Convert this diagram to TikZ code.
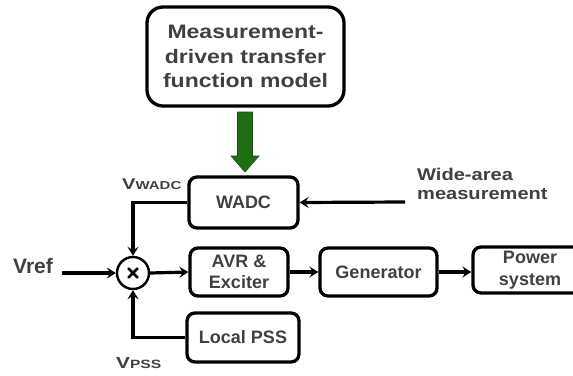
\documentclass[tikz,border=0pt]{standalone}
\usepackage{fontspec}
\setmainfont{Liberation Sans}
\newfontfamily\widefont{Liberation Sans}[FakeStretch=1.18]
\newfontfamily\heavyfont{Liberation Sans}[FakeStretch=1.3]
\usetikzlibrary{arrows.meta}
\definecolor{txt}{HTML}{404040}
\definecolor{arrowgreen}{HTML}{1E6E12}
\tikzset{
  blk/.style={draw=black, line width=3.3pt, rounded corners=8pt, inner sep=0pt,
    align=center, font=\bfseries\fontsize{18}{20.5}\selectfont, text=txt},
  lbl/.style={text=txt, font=\widefont\bfseries\fontsize{17}{19}\selectfont,
    inner sep=0pt, align=left},
  sig/.style={line width=3.2pt, -{Stealth[length=9pt,width=11pt,inset=3.5pt]}},
}
\begin{document}
\begin{tikzpicture}[x=1pt,y=-1pt]
\useasboundingbox (0,0) rectangle (573,375);
\begin{scope}
\clip (0,0) rectangle (573,375);
% blocks
\node[blk, minimum width=197pt, minimum height=99pt, rounded corners=16pt,
      font=\widefont\bfseries\fontsize{19.5}{24.5}\selectfont] (model) at (245.5,56.5)
  {Measurement-\\driven transfer\\function model};
\node[blk, minimum width=109pt, minimum height=51pt] (wadc) at (243.5,202.5) {WADC};
\node[blk, minimum width=98pt, minimum height=48pt] (avr) at (239,272) {AVR \&\\Exciter};
\node[blk, minimum width=112pt, minimum height=49pt] (pss) at (243,337.5) {Local PSS};
\node[blk, minimum width=117pt, minimum height=48pt] (gen) at (378.5,272) {Generator};
\node[blk, minimum width=114pt, minimum height=46pt, font=\bfseries\fontsize{18}{22}\selectfont]
  (pow) at (530,270) {Power\\system};
\end{scope}
% summing junction with its multiplication cross
\node[draw, circle, line width=2.4pt, minimum size=32pt, inner sep=0pt] (sum) at (133,273) {};
\draw[line width=2.6pt, line cap=round]
  ([shift={(-4.5,-4.5)}]sum.center) -- ([shift={(4.5,4.5)}]sum.center)
  ([shift={(-4.5,4.5)}]sum.center) -- ([shift={(4.5,-4.5)}]sum.center);
% inputs and labels
\node[lbl, font=\bfseries\fontsize{21}{22}\selectfont, anchor=base west] (vref) at (13,273) {Vref};
\coordinate (vrefend) at (62,273);
\node[lbl, anchor=base west] (wide) at (417,199) {Wide-area\\measurement};
\coordinate (wideend) at (405,202);
\node[lbl, font=\heavyfont\bfseries, anchor=base west] (vw) at (122,189)
  {{\fontsize{15.5}{15}\selectfont V}{\fontsize{11.5}{11}\selectfont WADC}};
\node[lbl, font=\heavyfont\bfseries, anchor=base west] (vp) at (116,368)
  {{\fontsize{16}{15}\selectfont V}{\fontsize{12}{11}\selectfont PSS}};
% green arrow
\fill[arrowgreen, draw=arrowgreen!70!black, line width=0.6pt]
  (237.5,112) -- (252.5,112) -- (252.5,156) -- (259,156) -- (245,172)
  -- (231,156) -- (237.5,156) -- cycle;
% signal paths
\draw[sig] (vrefend) -- (sum.west);
\draw[sig] (wadc.west) -| (sum.north);
\draw[sig] (pss.west) -| (sum.south);
\draw[sig] (sum.east) -- (avr.west);
\draw[sig] (avr.east |- gen.west) -- (gen.west);
\draw[sig] (gen.east) -- (pow.west |- gen.east);
\draw[sig] (wideend) -- (wadc.east);
\end{tikzpicture}
\end{document}
